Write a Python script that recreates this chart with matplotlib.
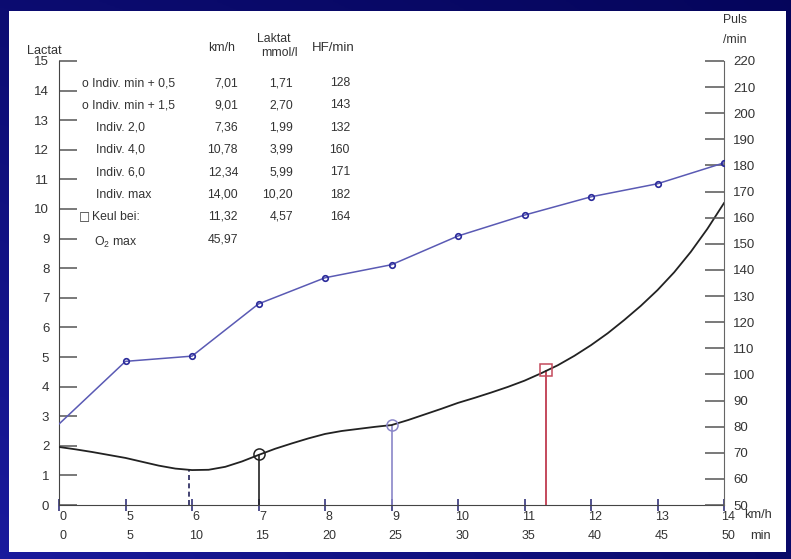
import numpy as np
import matplotlib.pyplot as plt
from matplotlib.patches import Rectangle
from matplotlib.transforms import ScaledTranslation

plt.rcParams['font.family'] = ['Liberation Sans', 'DejaVu Sans']
plt.rcParams['mathtext.fontset'] = 'custom'
plt.rcParams['mathtext.rm'] = 'Liberation Sans'
plt.rcParams['mathtext.it'] = 'Liberation Sans:italic'

W, H = 791, 559
TXT = '#333333'
FS = 8.8

# stage protocol (5 min per stage)
stage_kmh = [0, 5, 6, 7, 8, 9, 10, 11, 12, 13, 14]
stage_min = [0, 5, 10, 15, 20, 25, 30, 35, 40, 45, 50]
hf = [81, 105, 107, 127, 137, 142, 153, 161, 168, 173, 181]

lac_min = [0, 1.25, 2.5, 3.75, 5, 6.25, 7.5, 8.75, 10, 11.25, 12.5, 13.75,
           15, 16.25, 17.5, 18.75, 20, 21.25, 22.5, 23.75, 25, 26.25, 27.5,
           28.75, 30, 31.25, 32.5, 33.75, 35, 36.25, 37.5, 38.75, 40, 41.25,
           42.5, 43.75, 45, 46.25, 47.5, 48.75, 50]
lactate = [1.96, 1.88, 1.79, 1.69, 1.59, 1.46, 1.33, 1.23, 1.18, 1.19, 1.29, 1.47,
           1.69, 1.90, 2.08, 2.25, 2.40, 2.50, 2.57, 2.64, 2.70, 2.87, 3.06,
           3.25, 3.45, 3.62, 3.80, 3.99, 4.20, 4.45, 4.72, 5.04, 5.40, 5.80,
           6.25, 6.73, 7.26, 7.86, 8.55, 9.33, 10.20]

# threshold markers: indiv. min, min+0.5, min+1.5, Keul
thr_kmh = [5.95, 7.01, 9.01, 11.32]
thr_lac = [1.21, 1.71, 2.70, 4.57]

# table
row_labels = ["o Indiv. min + 0,5", "o Indiv. min + 1,5", "Indiv. 2,0", "Indiv. 4,0",
              "Indiv. 6,0", "Indiv. max", "Keul bei:", "O$_2$ max"]
col_kmh = ["7,01", "9,01", "7,36", "10,78", "12,34", "14,00", "11,32", "45,97"]
col_lac = ["1,71", "2,70", "1,99", "3,99", "5,99", "10,20", "4,57", ""]
col_hf = ["128", "143", "132", "160", "171", "182", "164", ""]
label_x = [82, 82, 96, 96, 96, 96, 92, 94]


def fx(px):
    return px / W


def fy(py):
    return 1 - py / H


def to_min(kmh):
    return np.interp(kmh, stage_kmh, stage_min)


fig = plt.figure(figsize=(W / 100, H / 100), dpi=100)

# blue slide background + white sheet
bg = fig.add_axes([0, 0, 1, 1])
bg.set_axis_off()
gx, gy = np.meshgrid(np.linspace(0, 1, 200), np.linspace(0, 1, 200))
f = np.clip(0.6 * (1 - gx) * (0.4 + 0.6 * gy) + 0.15 * gy, 0, 1)
dark = np.array([0.02, 0.02, 0.36])
light = np.array([0.13, 0.13, 0.70])
img = dark + (light - dark) * f[..., None]
bg.imshow(img, extent=[0, 1, 0, 1], aspect='auto', origin='upper')
bg.add_patch(Rectangle((fx(9), fy(552)), fx(786) - fx(9), fy(11) - fy(552),
                       facecolor='white', edgecolor='none'))
bg.set_xlim(0, 1)
bg.set_ylim(0, 1)

ax = fig.add_axes([fx(59), fy(505), fx(724) - fx(59), fy(61) - fy(505)])
ax.patch.set_visible(False)
ax.set_xlim(0, 50)
ax.set_ylim(0, 15)
ax2 = ax.twinx()
ax2.set_ylim(50, 220)
ax2.patch.set_visible(False)

# heart rate
ax2.plot(stage_min, hf, color='#5a5ab4', lw=1.1, marker='o', ms=4,
         mfc='none', mec='#2a2a9a', mew=1.2, markevery=list(range(1, len(hf))),
         zorder=3)

# lactate curve
ax.plot(lac_min, lactate, color='#222222', lw=1.3, zorder=3,
        solid_joinstyle='round')

# threshold verticals
tx = to_min(np.array(thr_kmh))
ax.vlines(tx[0], 0, thr_lac[0], color='#22225a', lw=1.2, linestyles=(0, (3, 2)))
ax.vlines(tx[1], 0, thr_lac[1], color='#222222', lw=1.2)
ax.vlines(tx[2], 0, thr_lac[2], color='#8a86c8', lw=1.2)
ax.vlines(tx[3], 0, thr_lac[3], color='#c44a5c', lw=1.4)
ax.plot(tx[1], thr_lac[1], 'o', ms=8, mfc='none', mec='#222222', mew=1.1, zorder=4)
ax.plot(tx[2], thr_lac[2], 'o', ms=8, mfc='none', mec='#8a86c8', mew=1.1, zorder=4)
ax.plot(tx[3], thr_lac[3], 's', ms=8, mfc='none', mec='#c44a5c', mew=1.1, zorder=4)

# axes styling
for s in ['top', 'right']:
    ax.spines[s].set_visible(False)
for s in ['top', 'left', 'bottom']:
    ax2.spines[s].set_visible(False)
ax.spines['left'].set_color('#444444')
ax.spines['bottom'].set_color('#444444')
ax2.spines['right'].set_color('#666666')

ax.set_yticks(range(0, 16))
ax.tick_params(axis='y', direction='in', length=13, width=1.1, color='#555555',
               pad=7, labelsize=9.5, labelcolor=TXT)
ax2.set_yticks(range(50, 221, 10))
ax2.tick_params(axis='y', direction='in', length=13.5, width=1.1, color='#555555',
                pad=6.5, labelsize=9.5, labelcolor=TXT)

ax.set_xticks(stage_min)
ax.set_xticklabels([f"{k}\n{m}" for k, m in zip(stage_kmh, stage_min)],
                   linespacing=1.75)
ax.tick_params(axis='x', direction='inout', length=9, width=1.2, color='#33337a',
               pad=0, labelsize=9, labelcolor=TXT)
shift = ScaledTranslation(4 / 100, 0, fig.dpi_scale_trans)
for lab in ax.get_xticklabels():
    lab.set_transform(lab.get_transform() + shift)

# unit labels
fig.text(fx(744), fy(515), "km/h", fontsize=9.2, color=TXT, va='center')
fig.text(fx(750), fy(536), "min", fontsize=9.2, color=TXT, va='center')
fig.text(fx(27), fy(51), "Lactat", fontsize=9.2, color=TXT, va='center')
fig.text(fx(723), fy(20), "Puls", fontsize=FS, color=TXT, va='center')
fig.text(fx(723), fy(40), "/min", fontsize=FS, color=TXT, va='center')

# table headers
fig.text(fx(235), fy(48), "km/h", fontsize=FS, color=TXT, va='center', ha='right')
fig.text(fx(274), fy(39), "Laktat", fontsize=FS, color=TXT, va='center', ha='center')
fig.text(fx(279), fy(53), "mmol/l", fontsize=FS, color=TXT, va='center', ha='center')
fig.text(fx(333), fy(48), "HF/min", fontsize=9.5, color=TXT, va='center', ha='center')

# table rows
for i, (lab, k, l, h) in enumerate(zip(row_labels, col_kmh, col_lac, col_hf)):
    y = 83 + 22.3 * i
    ly = y + 3 if lab.startswith("O$") else y
    fig.text(fx(label_x[i]), fy(ly), lab, fontsize=FS, color=TXT, va='center')
    fig.text(fx(238), fy(y), k, fontsize=FS, color=TXT, va='center', ha='right')
    fig.text(fx(293), fy(y), l, fontsize=FS, color=TXT, va='center', ha='right')
    fig.text(fx(350), fy(y), h, fontsize=FS, color=TXT, va='center', ha='right')

# Keul box symbol
keul_row = row_labels.index("Keul bei:")
fig.text(fx(79), fy(83 + 22.3 * keul_row), "\u25a1", fontsize=8.5,
         family=['DejaVu Sans'], color=TXT, va='center')

fig.savefig("out.png", dpi=100)
